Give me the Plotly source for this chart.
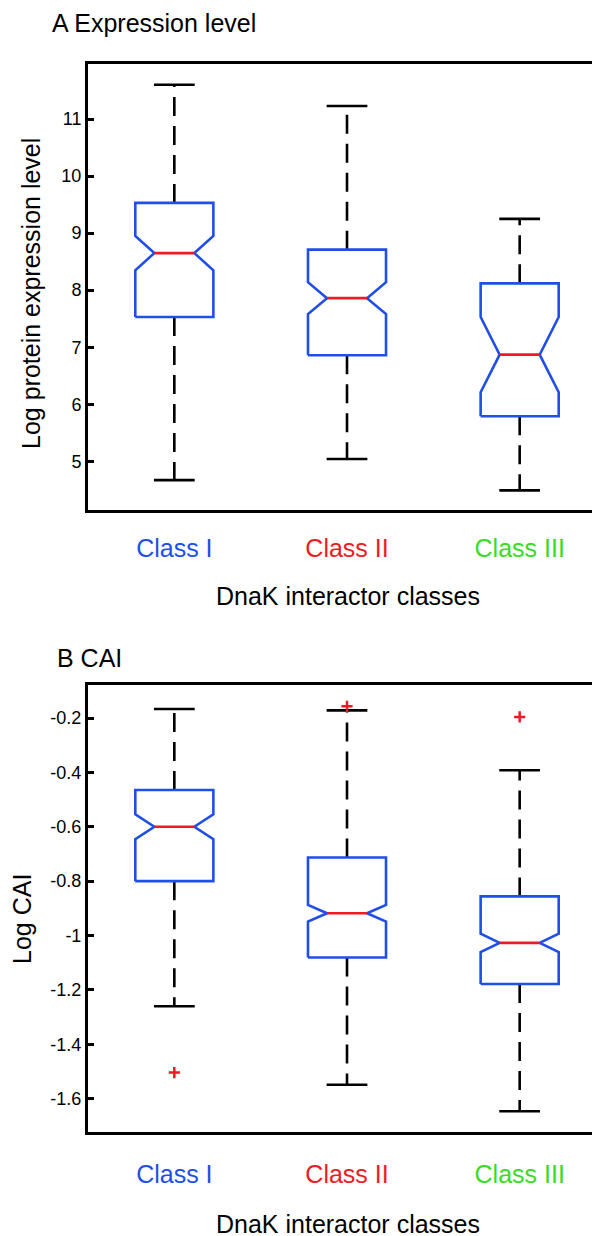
import plotly.graph_objects as go

# ---------------- data ----------------
classes = ["Class I", "Class II", "Class III"]
class_colors = ["#1f4fe8", "#ec1c24", "#38dc24"]
positions = [1, 2, 3]

# Panel A: log protein expression level
expr_upper = [11.60, 11.23, 9.25]
expr_q3 = [9.53, 8.71, 8.12]
expr_median = [8.65, 7.86, 6.87]
expr_q1 = [7.53, 6.86, 5.79]
expr_lower = [4.67, 5.04, 4.49]
expr_notch = [0.30, 0.28, 0.66]
expr_outliers = [[], [], []]
expr_ticks = [5, 6, 7, 8, 9, 10, 11]
expr_ticktext = ["5", "6", "7", "8", "9", "10", "11"]

# Panel B: log CAI
cai_upper = [-0.167, -0.172, -0.392]
cai_q3 = [-0.465, -0.713, -0.856]
cai_median = [-0.600, -0.918, -1.027]
cai_q1 = [-0.800, -1.081, -1.178]
cai_lower = [-1.260, -1.549, -1.646]
cai_notch = [0.046, 0.031, 0.034]
cai_outliers = [[-1.504], [-0.157], [-0.196]]
cai_ticks = [-1.6, -1.4, -1.2, -1.0, -0.8, -0.6, -0.4, -0.2]
cai_ticktext = ["-1.6", "-1.4", "-1.2", "-1", "-0.8", "-0.6", "-0.4", "-0.2"]

# ---------------- style ----------------
BOX_BLUE = "#1f4fe8"
MED_RED = "#ec1c24"
FONT = "Liberation Sans, Arial, Helvetica, sans-serif"
BIG = 25
TICK = 18
HALF_BOX = 0.226   # half width of the box (x data units)
HALF_NOTCH = 0.116  # half width at the notch waist
HALF_CAP = 0.118   # half width of the whisker caps
LW = 2.6

fig = go.Figure()


def add_panel(xa, ya, upper, q3, med, q1, lower, notch, outliers):
    for i, p in enumerate(positions):
        nhi = med[i] + notch[i]
        nlo = med[i] - notch[i]
        # whiskers (dashed)
        fig.add_trace(go.Scatter(
            x=[p, p], y=[q3[i], upper[i]], mode="lines", xaxis=xa, yaxis=ya,
            line=dict(color="black", width=LW, dash="19px,10px"),
            hoverinfo="skip", showlegend=False))
        fig.add_trace(go.Scatter(
            x=[p, p], y=[q1[i], lower[i]], mode="lines", xaxis=xa, yaxis=ya,
            line=dict(color="black", width=LW, dash="19px,10px"),
            hoverinfo="skip", showlegend=False))
        # caps
        for v in (upper[i], lower[i]):
            fig.add_trace(go.Scatter(
                x=[p - HALF_CAP, p + HALF_CAP], y=[v, v], mode="lines",
                xaxis=xa, yaxis=ya, line=dict(color="black", width=LW),
                hoverinfo="skip", showlegend=False))
        # notched box
        bx = [p - HALF_BOX, p + HALF_BOX, p + HALF_BOX, p + HALF_NOTCH,
              p + HALF_BOX, p + HALF_BOX, p - HALF_BOX, p - HALF_BOX,
              p - HALF_NOTCH, p - HALF_BOX, p - HALF_BOX]
        by = [q1[i], q1[i], nlo, med[i], nhi, q3[i], q3[i], nhi, med[i],
              nlo, q1[i]]
        fig.add_trace(go.Scatter(
            x=bx, y=by, mode="lines", xaxis=xa, yaxis=ya,
            fill="toself", fillcolor="white",
            line=dict(color=BOX_BLUE, width=LW),
            hoverinfo="skip", showlegend=False))
        # median
        fig.add_trace(go.Scatter(
            x=[p - HALF_NOTCH, p + HALF_NOTCH], y=[med[i], med[i]],
            mode="lines", xaxis=xa, yaxis=ya,
            line=dict(color=MED_RED, width=LW),
            hoverinfo="skip", showlegend=False))
        # outliers
        if outliers[i]:
            fig.add_trace(go.Scatter(
                x=[p] * len(outliers[i]), y=outliers[i], mode="markers",
                xaxis=xa, yaxis=ya,
                marker=dict(symbol="cross-thin", size=8,
                            line=dict(color=MED_RED, width=2.5)),
                hoverinfo="skip", showlegend=False))


add_panel("x", "y", expr_upper, expr_q3, expr_median, expr_q1, expr_lower,
          expr_notch, expr_outliers)
add_panel("x2", "y2", cai_upper, cai_q3, cai_median, cai_q1, cai_lower,
          cai_notch, cai_outliers)

W, H = 600, 1236
ticktext_colored = [f"<span style='color:{c}'>{t}</span>"
                    for t, c in zip(classes, class_colors)]

xcommon = dict(range=[0.5, 3.5], showline=True, linecolor="black",
               linewidth=3, mirror=True, ticks="", showgrid=False,
               zeroline=False, tickvals=positions, ticktext=ticktext_colored,
               tickfont=dict(family=FONT, size=BIG))
ycommon = dict(showline=True, linecolor="black", linewidth=3,
               mirror="ticks", ticks="inside", ticklen=6, tickwidth=2.5,
               tickcolor="black", showgrid=False, zeroline=False,
               tickfont=dict(family=FONT, size=TICK, color="black"))

fig.update_layout(
    width=W, height=H,
    margin=dict(l=0, r=0, t=0, b=0),
    paper_bgcolor="white", plot_bgcolor="white",
    font=dict(family=FONT, color="black"),
    showlegend=False,
    xaxis=dict(domain=[80 / W, 598 / W], anchor="y",
               ticklabelstandoff=14, **xcommon),
    yaxis=dict(domain=[1 - 501.5 / H, 1 - 56 / H], anchor="x",
               range=[4.155, 11.965], tickvals=expr_ticks,
               ticktext=expr_ticktext, **ycommon),
    xaxis2=dict(domain=[80 / W, 598 / W], anchor="y2",
                ticklabelstandoff=18, **xcommon),
    yaxis2=dict(domain=[1 - 1124.3 / H, 1 - 676.7 / H], anchor="x2",
                range=[-1.7236, -0.0775], tickvals=cai_ticks,
                ticktext=cai_ticktext, **ycommon),
)

annotations = [
    dict(text="A Expression level", x=42 / W, y=1 - 15 / H, xanchor="left",
         yanchor="middle"),
    dict(text="B CAI", x=47 / W, y=1 - 649.5 / H, xanchor="left",
         yanchor="middle"),
    dict(text="Log protein expression level", x=23 / W,
         y=1 - 286 / H, textangle=-90, xanchor="center", yanchor="middle"),
    dict(text="Log CAI", x=14 / W, y=1 - 911 / H, textangle=-90,
         xanchor="center", yanchor="middle"),
    dict(text="DnaK interactor classes", x=340 / W, y=1 - 588 / H,
         xanchor="center", yanchor="middle"),
    dict(text="DnaK interactor classes", x=340 / W, y=1 - 1216 / H,
         xanchor="center", yanchor="middle"),
]
for a in annotations:
    a.update(xref="paper", yref="paper", showarrow=False,
             font=dict(family=FONT, size=BIG, color="black"))
fig.update_layout(annotations=annotations)

fig.write_html("out.html")
